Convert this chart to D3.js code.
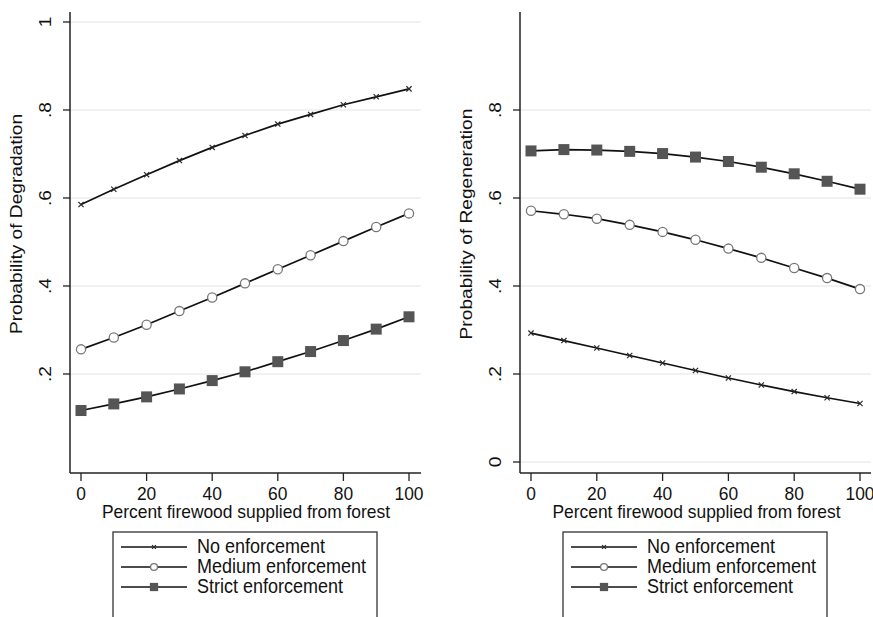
<!DOCTYPE html>
<html>
<head>
<meta charset="utf-8">
<script src="https://cdn.jsdelivr.net/npm/d3@7"></script>
<style>
  html, body { margin: 0; padding: 0; background: #fff; }
  svg { display: block; font-family: "Liberation Sans", Arial, Helvetica, sans-serif; }
</style>
</head>
<body>
<svg id="chart" width="873" height="617"></svg>
<script>
// Percent of firewood supplied from forest (x values)
const firewood = [0, 10, 20, 30, 40, 50, 60, 70, 80, 90, 100];
const xTicks = [0, 20, 40, 60, 80, 100];

// Predicted probability of degradation by enforcement level
const degradNo     = [0.585, 0.620, 0.653, 0.685, 0.715, 0.742, 0.768, 0.790, 0.812, 0.830, 0.848];
const degradMedium = [0.256, 0.283, 0.312, 0.343, 0.374, 0.406, 0.438, 0.470, 0.502, 0.534, 0.565];
const degradStrict = [0.117, 0.132, 0.148, 0.166, 0.185, 0.205, 0.228, 0.251, 0.276, 0.302, 0.330];

// Predicted probability of regeneration by enforcement level
const regenNo     = [0.293, 0.276, 0.259, 0.242, 0.225, 0.208, 0.191, 0.175, 0.160, 0.146, 0.133];
const regenMedium = [0.571, 0.563, 0.553, 0.539, 0.523, 0.505, 0.485, 0.464, 0.441, 0.418, 0.393];
const regenStrict = [0.707, 0.710, 0.709, 0.706, 0.701, 0.693, 0.683, 0.670, 0.655, 0.638, 0.620];

const degradTicks = [0.2, 0.4, 0.6, 0.8, 1];
const degradTickLabels = [".2", ".4", ".6", ".8", "1"];
const regenTicks = [0, 0.2, 0.4, 0.6, 0.8];
const regenTickLabels = ["0", ".2", ".4", ".6", ".8"];

const seriesNames = ["No enforcement", "Medium enforcement", "Strict enforcement"];
const markerTypes = ["x", "circle", "square"];

const svg = d3.select("#chart");
const FONT = 17.4;
const STRETCH = 1.1; // glyphs are drawn slightly taller than wide

// horizontal text, stretched vertically
function hText(g, x, y, str, anchor, size) {
  return g.append("text")
    .attr("transform", `translate(${x},${y}) scale(1,${STRETCH})`)
    .attr("text-anchor", anchor).attr("font-size", size || FONT).attr("fill", "#111")
    .text(str);
}
// vertical (bottom-to-top) text, stretched along its length
function vText(g, x, y, str, size) {
  return g.append("text")
    .attr("transform", `translate(${x},${y}) rotate(-90) scale(${STRETCH},1)`)
    .attr("text-anchor", "middle").attr("font-size", size || FONT).attr("fill", "#111")
    .text(str);
}

function drawMarker(g, type, x, y, scale) {
  const s = scale || 1;
  if (type === "x") {
    const d = 2.6 * s;
    g.append("path")
      .attr("d", `M${x - d},${y - d}L${x + d},${y + d}M${x - d},${y + d}L${x + d},${y - d}`)
      .attr("stroke", "#2a2a2a").attr("stroke-width", 1.2).attr("fill", "none");
  } else if (type === "circle") {
    g.append("circle").attr("cx", x).attr("cy", y).attr("r", 4.6 * s)
      .attr("fill", "#fff").attr("stroke", "#777").attr("stroke-width", 1.3);
  } else {
    const h = 5.5 * s;
    g.append("rect").attr("x", x - h).attr("y", y - h).attr("width", 2 * h).attr("height", 2 * h)
      .attr("fill", "#555");
  }
}

function panel(opt) {
  const g = svg.append("g");
  const x = d3.scaleLinear().domain([0, 100]).range([opt.x0, opt.x100]);
  const y = d3.scaleLinear().domain([0, 1]).range([462, 22]);
  const top = 12, bottom = 473;

  // horizontal gridlines
  g.selectAll(".grid").data(opt.yTicks).enter().append("line")
    .attr("x1", opt.axisX).attr("x2", opt.right)
    .attr("y1", d => y(d)).attr("y2", d => y(d))
    .attr("stroke", "#e4e4e4").attr("stroke-width", 1);

  // axes lines
  g.append("line").attr("x1", opt.axisX).attr("x2", opt.axisX).attr("y1", top).attr("y2", bottom)
    .attr("stroke", "#222").attr("stroke-width", 1.5);
  g.append("line").attr("x1", opt.axisX).attr("x2", opt.right).attr("y1", bottom).attr("y2", bottom)
    .attr("stroke", "#222").attr("stroke-width", 1.5);

  // y ticks and rotated labels
  opt.yTicks.forEach((t, i) => {
    g.append("line").attr("x1", opt.axisX - 7).attr("x2", opt.axisX)
      .attr("y1", y(t)).attr("y2", y(t)).attr("stroke", "#222").attr("stroke-width", 1.3);
    vText(g, opt.axisX - 19, y(t), opt.yTickLabels[i]);
  });

  // x ticks and labels
  xTicks.forEach(t => {
    g.append("line").attr("x1", x(t)).attr("x2", x(t)).attr("y1", bottom).attr("y2", bottom + 8)
      .attr("stroke", "#222").attr("stroke-width", 1.3);
    hText(g, x(t), 500, t, "middle");
  });

  // axis titles
  hText(g, (opt.x0 + opt.x100) / 2 + 1, 518, "Percent firewood supplied from forest", "middle");
  vText(g, opt.axisX - 48, 224, opt.yTitle);

  // series lines and markers
  const line = d3.line().x((d, i) => x(firewood[i])).y(d => y(d));
  opt.series.forEach((vals, k) => {
    g.append("path").attr("d", line(vals)).attr("fill", "none")
      .attr("stroke", "#111").attr("stroke-width", 1.7);
    vals.forEach((v, i) => drawMarker(g, markerTypes[k], x(firewood[i]), y(v), 1));
  });

  // legend
  const lg = g.append("g");
  const lx = opt.legendX, lw = 264;
  lg.append("rect").attr("x", lx).attr("y", 532).attr("width", lw).attr("height", 100)
    .attr("fill", "#fff").attr("stroke", "#333").attr("stroke-width", 1.3);
  seriesNames.forEach((name, k) => {
    const cy = 547 + k * 20;
    lg.append("line").attr("x1", lx + 8).attr("x2", lx + 74).attr("y1", cy).attr("y2", cy)
      .attr("stroke", "#111").attr("stroke-width", 1.5);
    drawMarker(lg, markerTypes[k], lx + 41, cy, 0.75);
    hText(lg, lx + 84, cy + 6, name, "start", 18);
  });
}

panel({
  axisX: 70, right: 421, x0: 81, x100: 409, legendX: 113,
  yTicks: degradTicks, yTickLabels: degradTickLabels,
  yTitle: "Probability of Degradation",
  series: [degradNo, degradMedium, degradStrict]
});

panel({
  axisX: 520, right: 871, x0: 531, x100: 860, legendX: 563,
  yTicks: regenTicks, yTickLabels: regenTickLabels,
  yTitle: "Probability of Regeneration",
  series: [regenNo, regenMedium, regenStrict]
});
</script>
</body>
</html>
